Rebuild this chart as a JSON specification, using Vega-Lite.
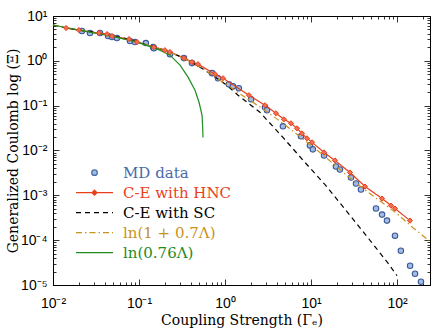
{
  "$schema": "https://vega.github.io/schema/vega-lite/v6.json",
  "width": 377,
  "height": 269,
  "autosize": "none",
  "padding": {"left": 53, "top": 16, "right": 6, "bottom": 47},
  "background": "white",
  "data": {"values": [
    {"s":"MD data","g":0.0217,"v":4.62},{"s":"MD data","g":0.0269,"v":4.17},{"s":"MD data","g":0.0352,"v":4.17},{"s":"MD data","g":0.0437,"v":3.57},{"s":"MD data","g":0.0485,"v":3.39},{"s":"MD data","g":0.0554,"v":3.22},{"s":"MD data","g":0.0785,"v":2.76},{"s":"MD data","g":0.0897,"v":2.62},{"s":"MD data","g":0.12,"v":2.49},{"s":"MD data","g":0.146,"v":2.02},{"s":"MD data","g":0.149,"v":1.92},{"s":"MD data","g":0.229,"v":1.41},{"s":"MD data","g":0.333,"v":1.15},{"s":"MD data","g":0.413,"v":0.889},{"s":"MD data","g":0.707,"v":0.531},{"s":"MD data","g":0.83,"v":0.41},{"s":"MD data","g":1.11,"v":0.301},{"s":"MD data","g":1.24,"v":0.272},{"s":"MD data","g":1.45,"v":0.245},{"s":"MD data","g":2.01,"v":0.139},{"s":"MD data","g":2.92,"v":0.0921},{"s":"MD data","g":3.08,"v":0.0789},{"s":"MD data","g":4.72,"v":0.0346},{"s":"MD data","g":7.65,"v":0.0207},{"s":"MD data","g":9.73,"v":0.013},{"s":"MD data","g":10.5,"v":0.0106},{"s":"MD data","g":14.2,"v":0.00776},{"s":"MD data","g":19.5,"v":0.00441},{"s":"MD data","g":21.7,"v":0.00378},{"s":"MD data","g":29.2,"v":0.0025},{"s":"MD data","g":33.4,"v":0.00184},{"s":"MD data","g":38.1,"v":0.00135},{"s":"MD data","g":57.0,"v":0.000507},{"s":"MD data","g":67.0,"v":0.000372},{"s":"MD data","g":76.5,"v":0.000273},{"s":"MD data","g":94.8,"v":0.000126},{"s":"MD data","g":111,"v":0.0000582},{"s":"MD data","g":142,"v":0.0000269},{"s":"MD data","g":162,"v":0.0000178},{"s":"MD data","g":190,"v":0.0000118},
    {"s":"C-E with HNC","g":0.0142,"v":5.39},{"s":"C-E with HNC","g":0.02,"v":4.86},{"s":"C-E with HNC","g":0.0343,"v":4.17},{"s":"C-E with HNC","g":0.0425,"v":3.96},{"s":"C-E with HNC","g":0.0485,"v":3.57},{"s":"C-E with HNC","g":0.0766,"v":3.06},{"s":"C-E with HNC","g":0.0949,"v":2.62},{"s":"C-E with HNC","g":0.149,"v":2.02},{"s":"C-E with HNC","g":0.2,"v":1.73},{"s":"C-E with HNC","g":0.229,"v":1.57},{"s":"C-E with HNC","g":0.333,"v":1.15},{"s":"C-E with HNC","g":0.413,"v":0.935},{"s":"C-E with HNC","g":0.485,"v":0.843},{"s":"C-E with HNC","g":0.766,"v":0.504},{"s":"C-E with HNC","g":0.949,"v":0.41},{"s":"C-E with HNC","g":1.9,"v":0.171},{"s":"C-E with HNC","g":2.92,"v":0.102},{"s":"C-E with HNC","g":3.92,"v":0.0676},{"s":"C-E with HNC","g":4.85,"v":0.0497},{"s":"C-E with HNC","g":5.85,"v":0.0404},{"s":"C-E with HNC","g":6.87,"v":0.0312},{"s":"C-E with HNC","g":7.86,"v":0.0241},{"s":"C-E with HNC","g":8.98,"v":0.0187},{"s":"C-E with HNC","g":10.3,"v":0.0152},{"s":"C-E with HNC","g":14.2,"v":0.00906},{"s":"C-E with HNC","g":19.0,"v":0.00601},{"s":"C-E with HNC","g":28.4,"v":0.00324},{"s":"C-E with HNC","g":42.5,"v":0.00157},{"s":"C-E with HNC","g":67.0,"v":0.000848},{"s":"C-E with HNC","g":85.1,"v":0.000591},{"s":"C-E with HNC","g":94.8,"v":0.000507},{"s":"C-E with HNC","g":141.6,"v":0.000273},
    {"s":"C-E with SC","g":0.01,"v":6.3},{"s":"C-E with SC","g":0.0142,"v":5.39},{"s":"C-E with SC","g":0.02,"v":4.86},{"s":"C-E with SC","g":0.0343,"v":4.17},{"s":"C-E with SC","g":0.0485,"v":3.57},{"s":"C-E with SC","g":0.0766,"v":3.06},{"s":"C-E with SC","g":0.0949,"v":2.62},{"s":"C-E with SC","g":0.149,"v":2.02},{"s":"C-E with SC","g":0.2,"v":1.73},{"s":"C-E with SC","g":0.333,"v":1.15},{"s":"C-E with SC","g":0.585,"v":0.619},{"s":"C-E with SC","g":1.05,"v":0.286},{"s":"C-E with SC","g":1.42,"v":0.171},{"s":"C-E with SC","g":2.55,"v":0.0712},{"s":"C-E with SC","g":4.72,"v":0.0196},{"s":"C-E with SC","g":8.51,"v":0.00542},{"s":"C-E with SC","g":14.5,"v":0.00175},{"s":"C-E with SC","g":26.2,"v":0.000434},{"s":"C-E with SC","g":44.8,"v":0.00012},{"s":"C-E with SC","g":76.5,"v":0.000033},{"s":"C-E with SC","g":100,"v":0.0000161},
    {"s":"ln(1 + 0.7Λ)","g":0.01,"v":6.3},{"s":"ln(1 + 0.7Λ)","g":0.02,"v":4.86},{"s":"ln(1 + 0.7Λ)","g":0.0485,"v":3.57},{"s":"ln(1 + 0.7Λ)","g":0.0949,"v":2.62},{"s":"ln(1 + 0.7Λ)","g":0.2,"v":1.73},{"s":"ln(1 + 0.7Λ)","g":0.333,"v":1.15},{"s":"ln(1 + 0.7Λ)","g":0.585,"v":0.619},{"s":"ln(1 + 0.7Λ)","g":0.949,"v":0.334},{"s":"ln(1 + 0.7Λ)","g":1.71,"v":0.154},{"s":"ln(1 + 0.7Λ)","g":2.69,"v":0.0875},{"s":"ln(1 + 0.7Λ)","g":4.72,"v":0.0404},{"s":"ln(1 + 0.7Λ)","g":12.7,"v":0.00906},{"s":"ln(1 + 0.7Λ)","g":26.2,"v":0.00277},{"s":"ln(1 + 0.7Λ)","g":44.8,"v":0.00122},{"s":"ln(1 + 0.7Λ)","g":100,"v":0.000392},{"s":"ln(1 + 0.7Λ)","g":153,"v":0.00019},{"s":"ln(1 + 0.7Λ)","g":236,"v":0.0000975},
    {"s":"ln(0.76Λ)","g":0.01,"v":6.3},{"s":"ln(0.76Λ)","g":0.02,"v":4.85},{"s":"ln(0.76Λ)","g":0.05,"v":3.5},{"s":"ln(0.76Λ)","g":0.1,"v":2.55},{"s":"ln(0.76Λ)","g":0.175,"v":1.73},{"s":"ln(0.76Λ)","g":0.229,"v":1.34},{"s":"ln(0.76Λ)","g":0.3,"v":0.8},{"s":"ln(0.76Λ)","g":0.372,"v":0.432},{"s":"ln(0.76Λ)","g":0.448,"v":0.221},{"s":"ln(0.76Λ)","g":0.499,"v":0.119},{"s":"ln(0.76Λ)","g":0.541,"v":0.061},{"s":"ln(0.76Λ)","g":0.55,"v":0.0329},{"s":"ln(0.76Λ)","g":0.555,"v":0.0196}
  ]},
  "resolve": {"axis": {"x": "independent", "y": "independent"}},
  "layer": [
    {
      "transform": [{"filter": "datum.s === 'MD data'"}],
      "mark": {"type": "point", "shape": "circle", "filled": true, "fill": "#a3bce6", "stroke": "#3a5898", "strokeWidth": 1.1, "size": 30, "opacity": 1},
      "encoding": {
        "x": {"field": "g", "type": "quantitative", "scale": {"type": "log", "domain": [0.01, 242], "nice": false}, "axis": null},
        "y": {"field": "v", "type": "quantitative", "scale": {"type": "log", "domain": [0.00001, 10], "nice": false}, "axis": null}
      }
    },
    {
      "transform": [{"filter": "datum.s !== 'MD data'"}],
      "mark": {"type": "line", "strokeWidth": 1.2},
      "encoding": {
        "x": {"field": "g", "type": "quantitative", "scale": {"type": "log", "domain": [0.01, 242], "nice": false},
          "axis": {"orient": "bottom", "title": "Coupling Strength (Γₑ)", "values": [0.01,0.02,0.03,0.04,0.05,0.06,0.07,0.08,0.09,0.1,0.2,0.3,0.4,0.5,0.6,0.7,0.8,0.9,1,2,3,4,5,6,7,8,9,10,20,30,40,50,60,70,80,90,100,200],
            "tickSize": {"condition": {"test": "abs(log(datum.value)/LN10 - round(log(datum.value)/LN10)) < 0.001", "value": -6}, "value": -3},
            "labelExpr": "abs(log(datum.value)/LN10 - round(log(datum.value)/LN10)) < 0.001 ? '10' + replace(replace(replace(replace(replace(replace(replace('' + round(log(datum.value)/LN10), '-', '⁻'), '0', '⁰'), '1', '¹'), '2', '²'), '3', '³'), '4', '⁴'), '5', '⁵') : ''",
            "labelBaseline": "top", "labelPadding": 17, "labelFlush": false, "labelOverlap": false, "titlePadding": 0}},
        "y": {"field": "v", "type": "quantitative", "scale": {"type": "log", "domain": [0.00001, 10], "nice": false},
          "axis": {"orient": "left", "title": "Generalized Coulomb log (Ξ)", "values": [0.00001,0.00002,0.00003,0.00004,0.00005,0.00006,0.00007,0.00008,0.00009,0.0001,0.0002,0.0003,0.0004,0.0005,0.0006,0.0007,0.0008,0.0009,0.001,0.002,0.003,0.004,0.005,0.006,0.007,0.008,0.009,0.01,0.02,0.03,0.04,0.05,0.06,0.07,0.08,0.09,0.1,0.2,0.3,0.4,0.5,0.6,0.7,0.8,0.9,1,2,3,4,5,6,7,8,9,10],
            "tickSize": {"condition": {"test": "abs(log(datum.value)/LN10 - round(log(datum.value)/LN10)) < 0.001", "value": -6}, "value": -3},
            "labelExpr": "abs(log(datum.value)/LN10 - round(log(datum.value)/LN10)) < 0.001 ? '10' + replace(replace(replace(replace(replace(replace(replace('' + round(log(datum.value)/LN10), '-', '⁻'), '0', '⁰'), '1', '¹'), '2', '²'), '3', '³'), '4', '⁴'), '5', '⁵') : ''",
            "labelPadding": 12, "labelFlush": false, "labelOverlap": false, "titlePadding": 0}},
        "color": {"field": "s", "type": "nominal",
          "scale": {"domain": ["MD data", "C-E with HNC", "C-E with SC", "ln(1 + 0.7Λ)", "ln(0.76Λ)"], "range": ["#4a6aa8", "#e8401c", "#000000", "#c8921e", "#1e8c1e"]},
          "legend": {"orient": "none", "legendX": 22, "legendY": 147, "title": null, "padding": 0,
            "symbolSize": 1369, "clipHeight": 19.3, "rowPadding": 0, "labelOffset": 9,
            "labelFont": "DejaVu Serif", "labelFontSize": 15, "symbolStrokeWidth": 1.3,
            "symbolType": {"expr": "datum.value === 'MD data' ? 'M0.15,0A0.15,0.15 0 1,1 -0.15,0A0.15,0.15 0 1,1 0.15,0Z' : datum.value === 'C-E with HNC' ? 'M-1,0L1,0M0,-0.13L0.13,0L0,0.13L-0.13,0Z' : 'stroke'"},
            "symbolFillColor": {"expr": "datum.value === 'MD data' ? '#a3bce6' : datum.value === 'C-E with HNC' ? '#e8401c' : 'transparent'"},
            "symbolDash": {"expr": "datum.value === 'C-E with SC' ? [5, 4] : datum.value === 'ln(1 + 0.7Λ)' ? [6, 3, 1.5, 3] : []"},
            "labelColor": {"expr": "datum.value === 'MD data' ? '#4a6aa8' : datum.value === 'C-E with HNC' ? '#e8401c' : datum.value === 'ln(1 + 0.7Λ)' ? '#c8921e' : datum.value === 'ln(0.76Λ)' ? '#1e8c1e' : '#000000'"}
          }},
        "strokeDash": {"field": "s", "type": "nominal",
          "scale": {"domain": ["C-E with HNC", "C-E with SC", "ln(1 + 0.7Λ)", "ln(0.76Λ)"], "range": [[], [5, 4], [6, 3, 1.5, 3], []]},
          "legend": null}
      }
    },
    {
      "transform": [{"filter": "datum.s === 'C-E with HNC'"}],
      "mark": {"type": "point", "shape": "diamond", "filled": true, "fill": "#f27050", "stroke": "#e8401c", "strokeWidth": 1, "size": 26, "opacity": 1},
      "encoding": {
        "x": {"field": "g", "type": "quantitative", "scale": {"type": "log", "domain": [0.01, 242], "nice": false}, "axis": null},
        "y": {"field": "v", "type": "quantitative", "scale": {"type": "log", "domain": [0.00001, 10], "nice": false}, "axis": null}
      }
    },
    {
      "transform": [{"filter": "datum.s === 'MD data'"}],
      "mark": {"type": "point", "opacity": 0},
      "encoding": {
        "x": {"field": "g", "type": "quantitative", "scale": {"type": "log", "domain": [0.01, 242], "nice": false},
          "axis": {"orient": "top", "title": null, "labels": false, "values": [0.01,0.02,0.03,0.04,0.05,0.06,0.07,0.08,0.09,0.1,0.2,0.3,0.4,0.5,0.6,0.7,0.8,0.9,1,2,3,4,5,6,7,8,9,10,20,30,40,50,60,70,80,90,100,200],
            "tickSize": {"condition": {"test": "abs(log(datum.value)/LN10 - round(log(datum.value)/LN10)) < 0.001", "value": -6}, "value": -3}}},
        "y": {"field": "v", "type": "quantitative", "scale": {"type": "log", "domain": [0.00001, 10], "nice": false},
          "axis": {"orient": "right", "title": null, "labels": false, "values": [0.00001,0.00002,0.00003,0.00004,0.00005,0.00006,0.00007,0.00008,0.00009,0.0001,0.0002,0.0003,0.0004,0.0005,0.0006,0.0007,0.0008,0.0009,0.001,0.002,0.003,0.004,0.005,0.006,0.007,0.008,0.009,0.01,0.02,0.03,0.04,0.05,0.06,0.07,0.08,0.09,0.1,0.2,0.3,0.4,0.5,0.6,0.7,0.8,0.9,1,2,3,4,5,6,7,8,9,10],
            "tickSize": {"condition": {"test": "abs(log(datum.value)/LN10 - round(log(datum.value)/LN10)) < 0.001", "value": -6}, "value": -3}}}
      }
    }
  ],
  "config": {
    "view": {"stroke": "black", "strokeWidth": 1},
    "axis": {"grid": false, "domainColor": "black", "domainWidth": 1, "tickColor": "black", "tickWidth": 0.8,
      "labelColor": "black", "titleColor": "black", "labelFont": "Liberation Sans", "labelFontSize": 14,
      "titleFont": "DejaVu Serif", "titleFontSize": 14, "titleFontWeight": "normal"}
  }
}
